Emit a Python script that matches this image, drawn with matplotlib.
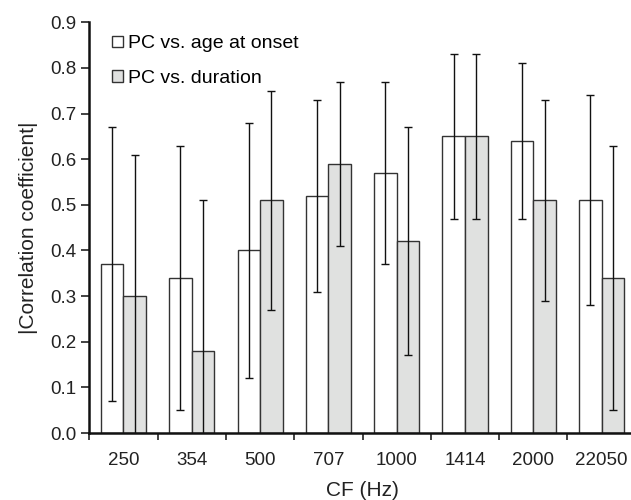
import matplotlib
matplotlib.use("Agg")
import matplotlib.pyplot as plt
from matplotlib.patches import Patch
from matplotlib.ticker import FixedLocator, MultipleLocator
import numpy as np

plt.rcParams['font.family'] = ['Liberation Sans', 'DejaVu Sans']

# data
cf_labels = ['250', '354', '500', '707', '1000', '1414', '2000', '22050']
onset = [0.37, 0.34, 0.40, 0.52, 0.57, 0.65, 0.64, 0.51]
onset_hi = [0.67, 0.63, 0.68, 0.73, 0.77, 0.83, 0.81, 0.74]
onset_lo = [0.07, 0.05, 0.12, 0.31, 0.37, 0.47, 0.47, 0.28]
dur = [0.30, 0.18, 0.51, 0.59, 0.42, 0.65, 0.51, 0.34]
dur_hi = [0.61, 0.51, 0.75, 0.77, 0.67, 0.83, 0.73, 0.63]
dur_lo = [-0.02, -0.02, 0.27, 0.41, 0.17, 0.47, 0.29, 0.05]

fig = plt.figure(figsize=(6.31, 5.0), dpi=100)
ax = fig.add_axes([0.1415, 0.134, 0.866, 0.8214])

x = np.arange(len(cf_labels)) + 0.5
w = 0.33
edge = '#333333'
grey = '#e0e1e0'

ax.bar(x - w / 2, onset, w, color='white', edgecolor=edge, linewidth=1.0)
ax.bar(x + w / 2, dur, w, color=grey, edgecolor=edge, linewidth=1.0)

on_err = [np.array(onset) - np.array(onset_lo), np.array(onset_hi) - np.array(onset)]
du_err = [np.array(dur) - np.array(dur_lo), np.array(dur_hi) - np.array(dur)]
ax.errorbar(x - w / 2, onset, yerr=on_err, fmt='none', ecolor='#111111',
            elinewidth=1.0, capsize=2.6, capthick=1.0)
ax.errorbar(x + w / 2, dur, yerr=du_err, fmt='none', ecolor='#111111',
            elinewidth=1.0, capsize=2.6, capthick=1.0)

ax.set_xlim(0, len(cf_labels))
ax.set_ylim(0, 0.9)
ax.yaxis.set_major_locator(MultipleLocator(0.1))
ax.set_yticklabels([f'{v:.1f}' for v in ax.get_yticks()])

ax.xaxis.set_major_locator(FixedLocator(x))
ax.set_xticklabels(cf_labels)
ax.xaxis.set_minor_locator(FixedLocator(np.arange(0, len(cf_labels))))
ax.tick_params(axis='x', which='major', length=0, pad=14, labelsize=13.5, colors='#222222')
ax.tick_params(axis='x', which='minor', length=5, width=1.2, direction='out', color='#222222')
ax.tick_params(axis='y', length=5.5, width=1.2, direction='out', labelsize=13.5,
               colors='#222222', pad=3.5)

for s in ['top', 'right']:
    ax.spines[s].set_visible(False)
for s in ['left', 'bottom']:
    ax.spines[s].set_linewidth(1.8)
    ax.spines[s].set_color('#111111')

ax.set_xlabel('CF (Hz)', fontsize=15, color='#222222', labelpad=8)
ax.set_ylabel('|Correlation coefficient|', fontsize=15, color='#222222', labelpad=9)

handles = [Patch(facecolor='white', edgecolor=edge, linewidth=1.0),
           Patch(facecolor=grey, edgecolor=edge, linewidth=1.0)]
ax.legend(handles, ['PC vs. age at onset', 'PC vs. duration'],
          loc='upper left', bbox_to_anchor=(0.041, 0.968), frameon=False,
          fontsize=14, handlelength=0.6, handleheight=0.55,
          handletextpad=0.25, labelspacing=0.9, borderpad=0, borderaxespad=0)

fig.savefig('out.png', dpi=100)
